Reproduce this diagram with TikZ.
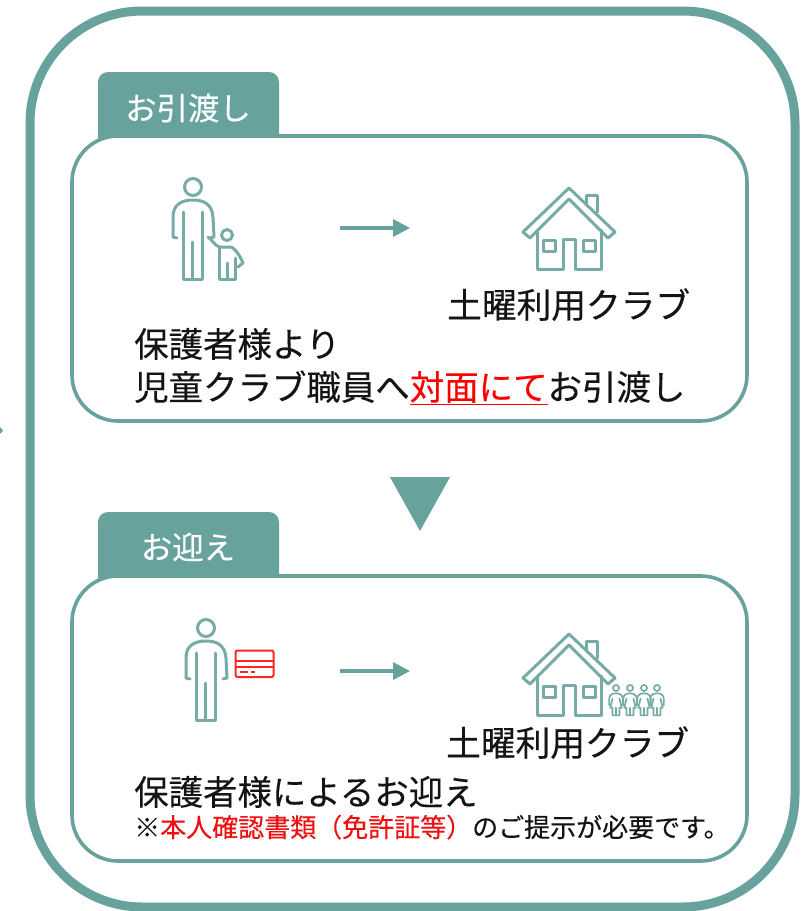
\documentclass[tikz,border=0pt]{standalone}
\usepackage{fontspec}
\setmainfont[FakeBold=0.25]{Noto Sans CJK JP}
\usetikzlibrary{arrows.meta}
\definecolor{teal1}{HTML}{67A29D}
\definecolor{icon}{HTML}{76ABA6}
\definecolor{redtx}{HTML}{F01010}
\tikzset{
  outerbox/.style={draw=teal1,line width=9pt,rounded corners=112pt},
  innerbox/.style={draw=teal1,line width=3.6pt,fill=white,rounded corners=46pt},
  tabbox/.style={fill=teal1,rounded corners=10pt},
  bigtx/.style={anchor=base west,inner sep=0pt,font=\fontsize{34.45}{40}\selectfont,text=black!92},
  clubtx/.style={anchor=base west,inner sep=0pt,font=\fontsize{34.7}{40}\selectfont,text=black!92},
  smalltx/.style={anchor=base west,inner sep=0pt,font=\fontsize{26}{30}\selectfont,text=black!92},
  tabtx/.style={anchor=center,inner sep=0pt,font=\fontsize{31.4}{36}\selectfont,text=white},
  flow/.style={draw=teal1,line width=3.4pt,-{Triangle[length=17pt,width=17pt]}},
  iconline/.style={draw=icon,line width=3pt,line join=round,line cap=round},
  kidline/.style={draw=icon,line width=1.7pt,line join=round,line cap=round},
  cardline/.style={draw=red!85!white,line width=2pt,line join=round},
}
% house icon: local origin at the roof apex (px)
\newcommand{\houseicon}[2]{%
 \begin{scope}[shift={(#1,#2)},iconline]
  \draw (-46,44) -- (0,0) -- (46,44) -- (39,50) -- (0,11) -- (-39,50) -- cycle;
  \draw (17,15) -- (17,7) -- (28,7) -- (28,24);
  \draw (-32,42) -- (-32,81) -- (-6,81) -- (-6,51) -- (6,51) -- (6,81) -- (32,81) -- (32,42);
  \draw (-26,52) rectangle (-14,63);
  \draw (14,52) rectangle (26,63);
 \end{scope}}
% adult icon: local origin at the head centre (px)
\newcommand{\adulticon}[2]{%
 \begin{scope}[shift={(#1,#2)},iconline]
  \draw (0,0) circle (8.5);
  \draw (-20,50) -- (-20,30) .. controls (-20,18) and (-12,13) .. (0,13) .. controls (12,13) and (19,18) .. (20,30) -- (21,50);
  \draw (-10,25) -- (-10,92) -- (9,92) -- (9,25);
  \draw (-1,55) -- (-1,92);
  \draw (-20,50) -- (-16,51);
  \draw (21,50) -- (17,51);
 \end{scope}}
% small figure in the group beside the second house
\newcommand{\kidicon}[2]{%
 \begin{scope}[shift={(#1,#2)},kidline,scale=0.38]
  \draw (0,0) circle (8);
  \draw (-18,45) -- (-18,30) .. controls (-18,18) and (-10,14) .. (0,14) .. controls (10,14) and (18,18) .. (18,30) -- (18,45);
  \draw (-9,28) -- (-15,52) -- (-9,52) -- (-9,72) -- (9,72) -- (9,52) -- (15,52) -- (9,28);
  \draw (0,52) -- (0,72);
 \end{scope}}
\begin{document}
\begin{tikzpicture}[x=1pt,y=-1pt]
\useasboundingbox (0,0) rectangle (808,911);
\fill[white] (0,0) rectangle (808,911);
% stray tip at the left edge
\fill[teal1] (0,427) -- (3,430.5) -- (0,434) -- cycle;
% outer frame
\draw[outerbox] (30,11) rectangle (795,907);

% first panel
\fill[tabbox] (98,72) rectangle (279,150);
\node[tabtx] (tab1) at (188,108) {お引渡し};
\draw[innerbox] (72,136) rectangle (747,421);
\adulticon{193}{187}
% child
\begin{scope}[iconline]
 \draw (227,235) circle (5.5);
 \draw (208,237) .. controls (213,241) and (215,246) .. (220,247) -- (231,247) .. controls (236,249) and (241,258) .. (243,263) -- (238,267);
 \draw (219,248) -- (219,279) -- (235,279) -- (235,258);
 \draw (227,263) -- (227,279);
\end{scope}
\houseicon{569}{188}
\coordinate (a1s) at (340,228);
\coordinate (a1e) at (410,228);
\draw[flow] (a1s) -- (a1e);
\node[clubtx] (club1) at (447,318) {土曜利用クラブ};
\node[bigtx] (from1) at (134,357) {保護者様より};
\node[bigtx] (to1) at (134,400) {児童クラブ職員へ{\color{red}\underline{対面にて}}お引渡し};

% triangle between panels
\fill[teal1] (390,477) -- (450,477) -- (420,531) -- cycle;

% second panel
\fill[tabbox] (98,512) rectangle (279,590);
\node[tabtx] (tab2) at (188,547) {お迎え};
\draw[innerbox] (72,576) rectangle (747,861);
\adulticon{206}{628}
% ID card
\draw[cardline,rounded corners=2pt] (235.5,650.5) rectangle (273.5,677);
\draw[cardline] (236,661) -- (273,661);
\draw[cardline] (236,667) -- (273,667);
\draw[cardline] (240,671.5) -- (248,671.5);
\draw[cardline] (251,671.5) -- (255,671.5);
\houseicon{569}{634}
\kidicon{616}{688}
\kidicon{630}{688}
\kidicon{644}{688}
\kidicon{657}{688}
\coordinate (a2s) at (340,671);
\coordinate (a2e) at (410,671);
\draw[flow] (a2s) -- (a2e);
\node[clubtx] (club2) at (446,756) {土曜利用クラブ};
\node[bigtx] (from2) at (134,805) {保護者様によるお迎え};
\node[smalltx] (note) at (134,837) {※{\color{redtx}本人確認書類（免許証等）}のご提示が必要です。};
\end{tikzpicture}
\end{document}
